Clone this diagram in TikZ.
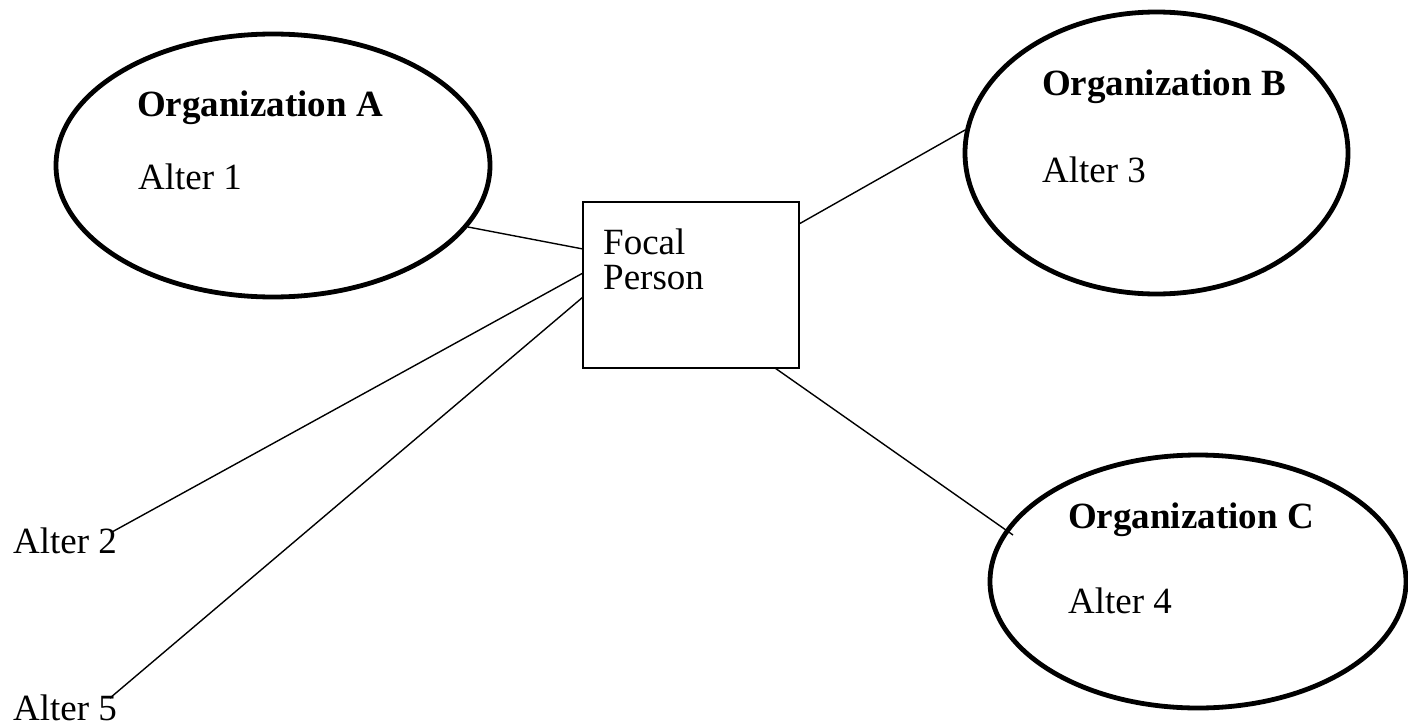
\documentclass[tikz,border=0pt]{standalone}
\usepackage{fontspec}
\setmainfont{Liberation Serif}
\usetikzlibrary{shapes.geometric}
\begin{document}
\begin{tikzpicture}[x=1pt,y=-1pt,
  org/.style={draw, ellipse, line width=4.8pt, inner sep=0pt, outer sep=0pt},
  focalbox/.style={draw, rectangle, line width=1.6pt, inner sep=0pt, outer sep=0pt, anchor=north west},
  lbl/.style={anchor=base west, inner sep=0pt, font=\fontsize{37}{40}\selectfont},
  blbl/.style={lbl, font=\fontsize{37}{40}\selectfont\bfseries},
  conn/.style={line width=1.4pt}]
\useasboundingbox (0,0) rectangle (1408,728);
% organizations
\node[org, minimum width=434pt, minimum height=263pt] (A) at (273,165.5) {};
\node[org, minimum width=383pt, minimum height=282pt] (B) at (1156.5,153) {};
\node[org, minimum width=416pt, minimum height=253pt] (C) at (1198,581.5) {};
% focal box
\node[focalbox, minimum width=216pt, minimum height=166pt] (F) at (583,202) {};
% texts
\node[blbl] (tA) at (137,116) {Organization A};
\node[lbl] (a1) at (138,189) {Alter 1};
\node[blbl] (tB) at (1042,95) {Organization B};
\node[lbl] (a3) at (1042,182) {Alter 3};
\node[blbl] (tC) at (1068,528) {Organization C};
\node[lbl] (a4) at (1068,613) {Alter 4};
\node[lbl] (f1) at (603,254) {Focal};
\node[lbl] (f2) at (603,289) {Person};
\node[lbl] (a2) at (13,553) {Alter 2};
\node[lbl] (a5) at (13,720) {Alter 5};
% attachment points
\coordinate (pA) at (468,227);
\coordinate (fA) at (583,249);
\coordinate (f2p) at (583,273);
\coordinate (e2) at (112,532);
\coordinate (f5p) at (583,297);
\coordinate (e5) at (110,698);
\coordinate (fB) at (799,224);
\coordinate (pB) at (965,130);
\coordinate (fC) at (775,368);
\coordinate (pC) at (1013,535);
% connectors
\draw[conn] (pA) -- (fA);
\draw[conn] (f2p) -- (e2);
\draw[conn] (f5p) -- (e5);
\draw[conn] (fB) -- (pB);
\draw[conn] (fC) -- (pC);
\end{tikzpicture}
\end{document}
